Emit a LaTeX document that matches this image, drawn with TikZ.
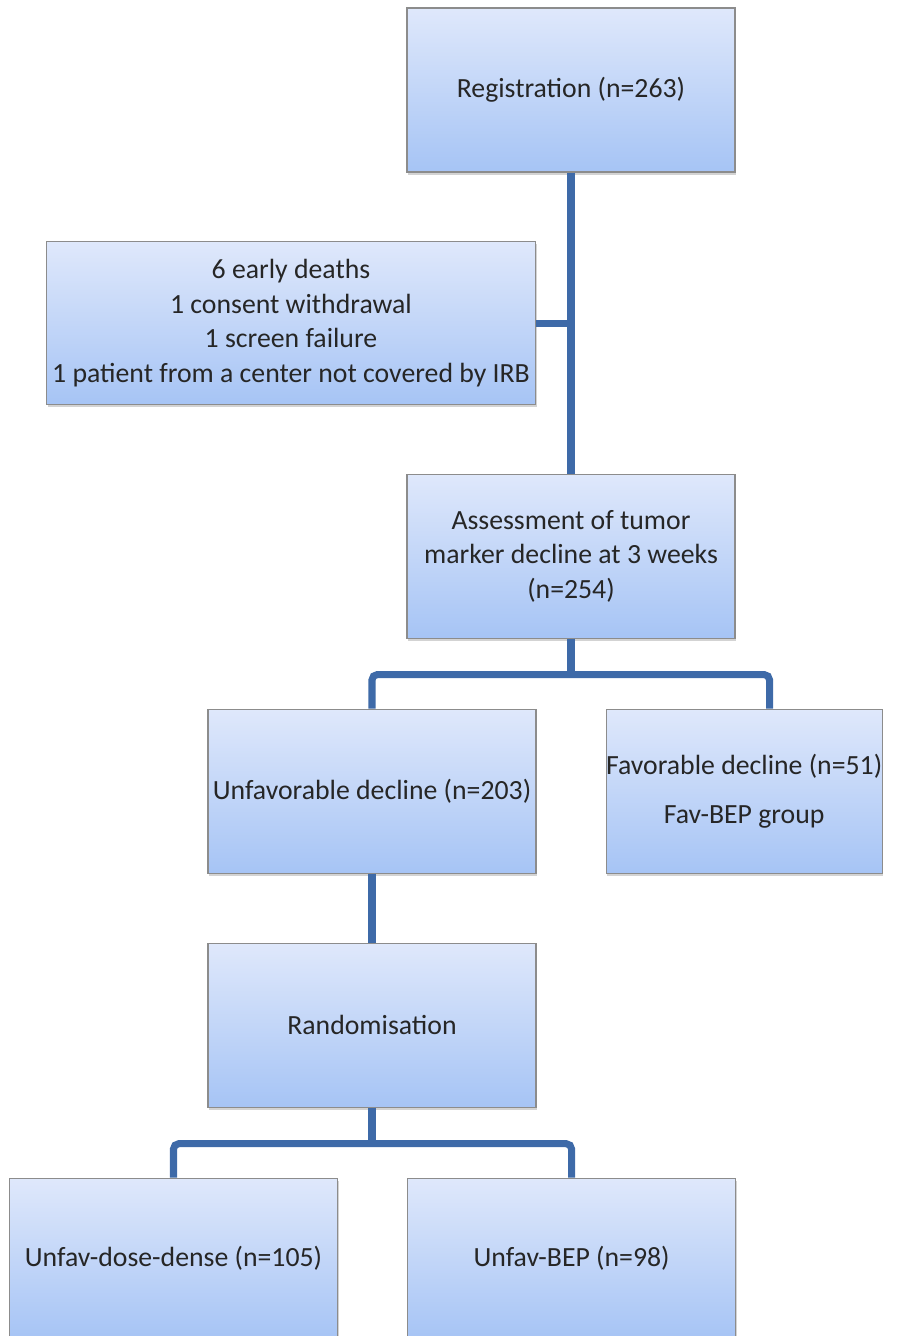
\documentclass[tikz,border=0pt]{standalone}
\usepackage{fontspec}
\setmainfont{Carlito}
\usetikzlibrary{positioning,calc,shadows}
\definecolor{linkblue}{RGB}{62,106,168}
\definecolor{boxtop}{RGB}{223,232,251}
\definecolor{boxbot}{RGB}{166,196,245}

\begin{document}
\begin{tikzpicture}[node distance=1.4cm,
  box/.style={draw=gray!90, line width=0.6pt, top color=boxtop, bottom color=boxbot,
    minimum width=6.56cm, minimum height=3.28cm, inner sep=0pt, align=center,
    text=black!85, font=\fontsize{15.8}{19.6}\selectfont,
    drop shadow={opacity=0.35, shadow xshift=0.6pt, shadow yshift=-1.6pt}},
  link/.style={draw=linkblue, line width=4pt, rounded corners=3pt}]
\useasboundingbox (0,0) rectangle (18.48,-26.72);
\node[box] (R) at (11.42,-1.80) {Registration (n=263)};
\node[box, below=6.02cm of R] (A) {Assessment of tumor\\marker decline at 3 weeks\\(n=254)};
\coordinate (M) at ($(R.south)!0.5!(A.north)$);
\node[box, minimum width=9.78cm, minimum height=3.26cm, left=0.70cm of M] (E)
  {6 early deaths\\1 consent withdrawal\\1 screen failure\\1 patient from a center not covered by IRB};
\node[box, below=of A, xshift=-3.98cm] (U) {Unfavorable decline (n=203)};
\node[box, minimum width=5.40cm, right=1.38cm of U] (F) {Favorable decline (n=51)\\[8.5pt]Fav-BEP group};
\node[box, below=1.38cm of U] (Rz) {Randomisation};
\node[box, minimum height=3.22cm, below=of Rz, xshift=-3.97cm] (D) {Unfav-dose-dense (n=105)};
\node[box, minimum height=3.22cm, right=1.38cm of D] (B) {Unfav-BEP (n=98)};
\coordinate (Ft) at ($(F.north west)+(3.28,0)$);
\coordinate (Ab) at ($(A.south)+(0,-0.72)$);
\coordinate (Zb) at ($(Rz.south)+(0,-0.72)$);
\draw[link] (R) -- (A);
\draw[link] (E) -- (M);
\draw[link] (A) -- (Ab);
\draw[link] (U.north) |- (Ab) -| (Ft);
\draw[link] (U) -- (Rz);
\draw[link] (Rz) -- (Zb);
\draw[link] (D.north) |- (Zb) -| (B.north);
\end{tikzpicture}
\end{document}
